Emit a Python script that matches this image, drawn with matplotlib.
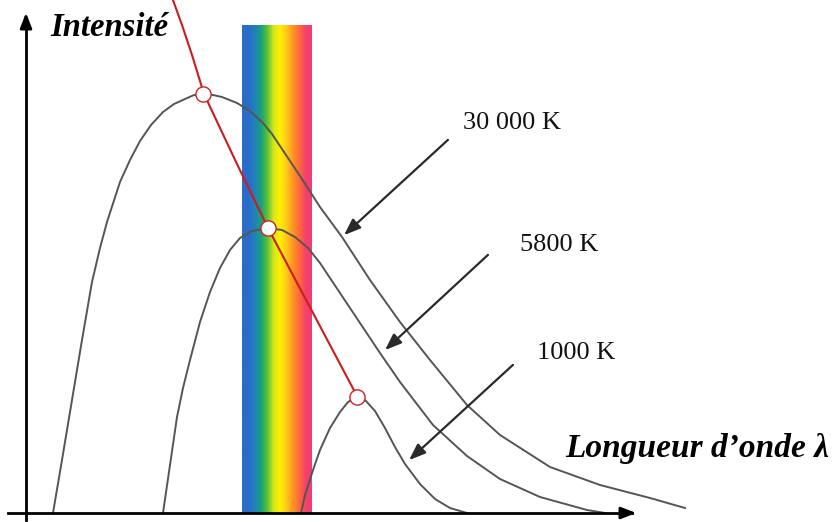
import matplotlib
matplotlib.use("Agg")
import matplotlib.pyplot as plt
import numpy as np
from matplotlib.colors import LinearSegmentedColormap

# Schematic units: x = wavelength (arbitrary), y = intensity (arbitrary), origin at axes corner
lam_30000 = [27, 36, 46, 56, 66, 74, 81, 94, 104, 114, 125, 137, 148, 159, 168, 177, 187, 196,
             211, 224, 237, 246, 254, 274, 294, 316, 344, 374, 404, 441, 474, 524, 574, 624, 659]
int_30000 = [0, 53, 113, 173, 231, 265, 291, 331, 353, 372, 388, 401, 409, 414, 418, 419, 418, 416,
             410, 402, 390, 379, 367, 337, 306, 276, 233, 191, 153, 108, 78, 46, 28, 15, 5]

lam_5800 = [137, 144, 151, 157, 164, 174, 184, 194, 204, 214, 226, 242, 256, 269, 282, 294, 314,
            334, 354, 374, 407, 441, 474, 514, 561, 579]
int_5800 = [0, 48, 96, 125, 153, 191, 221, 245, 263, 275, 282, 285, 283, 276, 265, 250, 220,
            190, 160, 131, 88, 57, 34, 16, 3, 0]

lam_1000 = [275, 279, 287, 294, 304, 314, 322, 331, 340, 349, 359, 369, 379, 394, 409, 424, 441]
int_1000 = [0, 18, 43, 63, 85, 101, 111, 116, 112, 102, 85, 66, 49, 29, 14, 5, 0]

# Wien peak locus and the peaks it passes through
wien_lam = [147, 156, 166, 178, 211, 242, 331]
wien_int = [513, 488, 458, 419, 349, 285, 117]
peak_lam = [177, 242, 331]
peak_int = [419, 285, 116]

labels = ["30 000 K", "5800 K", "1000 K"]
arrow_tail = [(424, 375), (464, 260), (489, 150)]
arrow_head = [(316, 276), (357, 161), (381, 51)]
label_pos = [(437, 390), (494, 268), (511, 160)]

# visible band
band_lam = (216, 286)
band_colors = ["#2a6cc8", "#2a6cc8", "#1f82bb", "#1aa07a", "#5cc236", "#d8e61a", "#fff000",
               "#ffc81c", "#ff9622", "#ff6a3a", "#f4426a", "#ee3e76"]

fig = plt.figure(figsize=(8.32, 5.22), dpi=100)
ax = fig.add_axes([0, 0, 1, 1])
ax.set_xlim(-26, 806)
ax.set_ylim(-9, 513)
ax.axis("off")

# spectrum band
cmap = LinearSegmentedColormap.from_list("vis", band_colors)
grad = np.linspace(0, 1, 256).reshape(1, -1)
ax.imshow(grad, cmap=cmap, aspect="auto", extent=[band_lam[0], band_lam[1], 0, 488], zorder=1)

# planck curves
for lx, iy in [(lam_30000, int_30000), (lam_5800, int_5800), (lam_1000, int_1000)]:
    ax.plot(lx, iy, color="#555555", lw=1.4, zorder=3, solid_joinstyle="round")

# axes with arrows
ax.plot([-18, 606], [0, 0], color="black", lw=2, zorder=4)
ax.annotate("", xy=(613, 0), xytext=(595, 0),
            arrowprops=dict(arrowstyle="-|>,head_length=0.9,head_width=0.35", color="black", lw=2), zorder=4)
ax.plot([0, 0], [-7, 490], color="black", lw=2, zorder=4)
ax.annotate("", xy=(0, 503), xytext=(0, 485),
            arrowprops=dict(arrowstyle="-|>,head_length=0.9,head_width=0.35", color="black", lw=2), zorder=4)

# Wien locus
ax.plot(wien_lam, wien_int, color="#cc1c1c", lw=1.5, zorder=5)
ax.scatter(peak_lam, peak_int, s=120, facecolor="white", edgecolor="#d02020", lw=1.0, zorder=6)

# arrows + temperature labels
for lab, t, h, p in zip(labels, arrow_tail, arrow_head, label_pos):
    ax.annotate("", xy=h, xytext=t,
                arrowprops=dict(arrowstyle="-|>,head_length=1.0,head_width=0.38", color="#2a2a2a", lw=1.6), zorder=5)
    ax.text(p[0], p[1], lab, fontsize=19, family="Liberation Serif", ha="left", va="center", color="#111111")

ax.text(24, 485, "Intensité", fontsize=23.5, family="Liberation Serif", weight="bold", style="italic",
        ha="left", va="center")
ax.text(803, 64, "Longueur d\u2019onde \u03bb", fontsize=24, family="Liberation Serif", weight="bold",
        style="italic", ha="right", va="center")

fig.savefig("out.png", dpi=100)
